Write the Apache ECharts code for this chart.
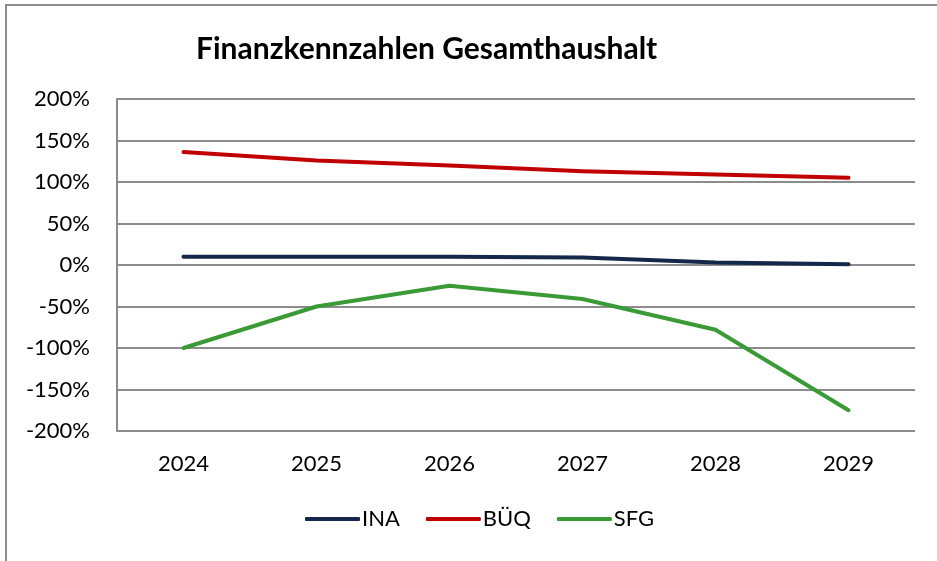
<!DOCTYPE html>
<html lang="de">
<head>
    <meta charset="UTF-8">
    <title>Finanzkennzahlen Gesamthaushalt</title>
    <script src="https://cdn.jsdelivr.net/npm/echarts@6/dist/echarts.min.js"></script>
    <style>
        body { margin: 0; background: #fff; }
        #chart { width: 937px; height: 561px; }
    </style>
</head>
<body>
    <div id="chart"></div>
    <script>
        const years = ['2024', '2025', '2026', '2027', '2028', '2029'];
        const ina = [10, 10, 10, 9, 3, 1];
        const bueq = [136, 126, 120, 113, 109, 105];
        const sfg = [-100, -50, -25, -41, -78, -175];

        const chart = echarts.init(document.getElementById('chart'));
        const font = 'Lato, "Open Sans", sans-serif';

        function line(name, data, color) {
            return {
                name: name,
                type: 'line',
                data: data,
                symbol: 'none',
                lineStyle: { color: color, width: 4, cap: 'round', join: 'round' },
                itemStyle: { color: color }
            };
        }

        chart.setOption({
            animation: false,
            textStyle: { fontFamily: font },
            graphic: [{
                type: 'rect',
                shape: { x: 6, y: 5, width: 960, height: 600 },
                style: { fill: 'none', stroke: '#8c8c8c', lineWidth: 2 },
                silent: true
            }],
            title: {
                text: 'Finanzkennzahlen Gesamthaushalt',
                left: 191,
                top: 29,
                textStyle: { fontFamily: font, fontSize: 30, fontWeight: 'bold', color: '#000' }
            },
            legend: {
                bottom: 26,
                left: 300,
                itemWidth: 55,
                itemHeight: 4,
                itemGap: 26,
                icon: 'roundRect',
                textStyle: { fontFamily: font, fontSize: 22, color: '#000', padding: [0, 0, 0, -3] },
                data: ['INA', 'BÜQ', 'SFG']
            },
            grid: { left: 117, right: 22, top: 99, bottom: 130 },
            xAxis: {
                type: 'category',
                data: years,
                boundaryGap: true,
                axisLine: { show: false },
                axisTick: { show: false },
                axisLabel: { fontFamily: font, fontSize: 22, color: '#000', margin: 22 }
            },
            yAxis: {
                type: 'value',
                min: -200,
                max: 200,
                interval: 50,
                axisLine: { show: true, lineStyle: { color: '#8c8c8c', width: 2 } },
                axisTick: { show: false },
                axisLabel: { formatter: '{value}%', fontFamily: font, fontSize: 22, color: '#000', margin: 27 },
                splitLine: { lineStyle: { color: '#8c8c8c', width: 2 } }
            },
            series: [
                line('INA', ina, '#14284b'),
                line('BÜQ', bueq, '#c00000'),
                line('SFG', sfg, '#3a9a35')
            ]
        });
    </script>
</body>
</html>
